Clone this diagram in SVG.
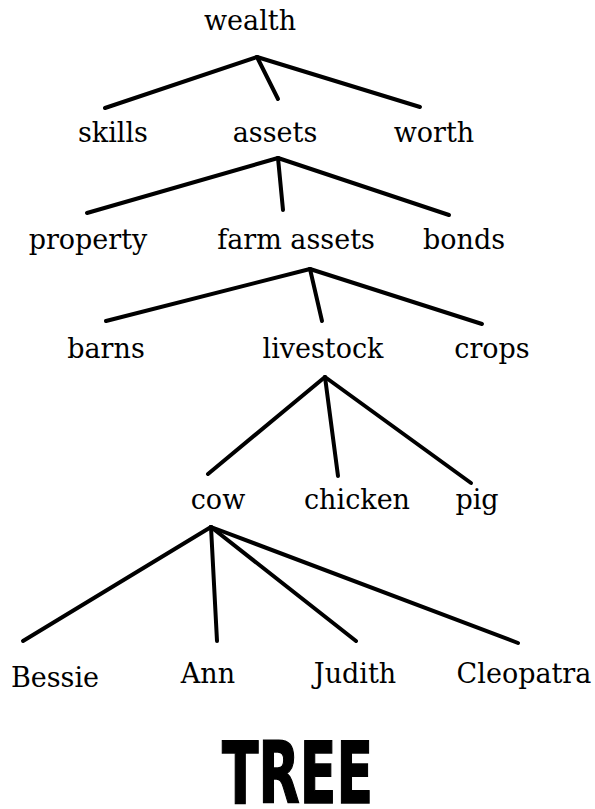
<svg xmlns="http://www.w3.org/2000/svg" width="595" height="809" viewBox="0 0 595 809">
  <style>
    .lbl { font-family: "DejaVu Serif", "Liberation Serif", serif; font-size: 27px; fill: #000; text-anchor: middle; }
    .edge { stroke: #000; stroke-width: 4; stroke-linecap: round; fill: none; }
    .title { font-family: "DejaVu Sans Condensed", "DejaVu Sans", "Liberation Sans", sans-serif; font-weight: bold; font-size: 85px; fill: #000; stroke: #000; stroke-width: 1.5; }
  </style>
  <rect width="595" height="809" fill="#fff"/>
  <g id="connectors">
    <line class="edge" x1="257" y1="57" x2="105" y2="108"/>
    <line class="edge" x1="257" y1="57" x2="278" y2="99"/>
    <line class="edge" x1="257" y1="57" x2="420" y2="107"/>
    <line class="edge" x1="278" y1="158" x2="87" y2="213"/>
    <line class="edge" x1="278" y1="158" x2="283" y2="210"/>
    <line class="edge" x1="278" y1="158" x2="449" y2="215"/>
    <line class="edge" x1="310" y1="269" x2="106" y2="321"/>
    <line class="edge" x1="310" y1="269" x2="322" y2="321"/>
    <line class="edge" x1="310" y1="269" x2="482" y2="324"/>
    <line class="edge" x1="325" y1="377" x2="208" y2="474"/>
    <line class="edge" x1="325" y1="377" x2="338" y2="476"/>
    <line class="edge" x1="325" y1="377" x2="471" y2="483"/>
    <line class="edge" x1="211" y1="527" x2="23" y2="641"/>
    <line class="edge" x1="211" y1="527" x2="217" y2="641"/>
    <line class="edge" x1="211" y1="527" x2="356" y2="641"/>
    <line class="edge" x1="211" y1="527" x2="518" y2="643"/>
  </g>
  <g id="wealth"><text class="lbl" x="250" y="30">wealth</text></g>
  <g id="skills"><text class="lbl" x="113" y="142">skills</text></g>
  <g id="assets"><text class="lbl" x="275" y="142">assets</text></g>
  <g id="worth"><text class="lbl" x="434" y="142">worth</text></g>
  <g id="property"><text class="lbl" x="88" y="249">property</text></g>
  <g id="farm-assets"><text class="lbl" x="296" y="249">farm assets</text></g>
  <g id="bonds"><text class="lbl" x="464" y="249">bonds</text></g>
  <g id="barns"><text class="lbl" x="106" y="358">barns</text></g>
  <g id="livestock"><text class="lbl" x="323" y="358">livestock</text></g>
  <g id="crops"><text class="lbl" x="492" y="358">crops</text></g>
  <g id="cow"><text class="lbl" x="218" y="509">cow</text></g>
  <g id="chicken"><text class="lbl" x="357" y="509">chicken</text></g>
  <g id="pig"><text class="lbl" x="477" y="509">pig</text></g>
  <g id="bessie"><text class="lbl" x="55" y="687">Bessie</text></g>
  <g id="ann"><text class="lbl" x="208" y="683">Ann</text></g>
  <g id="judith"><text class="lbl" x="355" y="683">Judith</text></g>
  <g id="cleopatra"><text class="lbl" x="524" y="683">Cleopatra</text></g>
  <g id="title"><text class="title" x="222" y="803" textLength="151" lengthAdjust="spacingAndGlyphs">TREE</text></g>
</svg>
